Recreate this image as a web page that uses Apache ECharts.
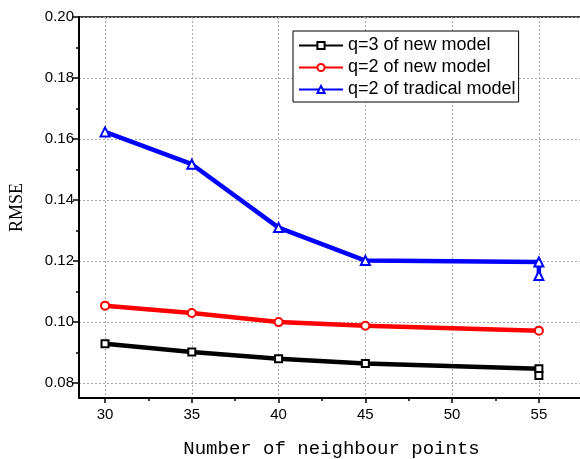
<!DOCTYPE html>
<html>
<head>
<meta charset="utf-8">
<script src="https://cdn.jsdelivr.net/npm/echarts@6/dist/echarts.min.js"></script>
<style>
  html, body { margin: 0; padding: 0; background: #fff; }
  #chart { width: 580px; height: 459px; }
</style>
</head>
<body>
<div id="chart"></div>
<script>
// data
const neighbourPoints = [30, 35, 40, 45, 55, 55]
const q3New = [0.0928, 0.0901, 0.0879, 0.0863, 0.0846, 0.0824]
const q2New = [0.1053, 0.1029, 0.0999, 0.0987, 0.0971]
const q2Trad = [0.1623, 0.1517, 0.1309, 0.1201, 0.1196, 0.1152]
const seriesNames = ['q=3 of new model', 'q=2 of new model', 'q=2 of tradical model']
const xTicks = [30, 35, 40, 45, 50, 55]
const xMinorTicks = [32.5, 37.5, 42.5, 47.5, 52.5, 57.5]
const yTicks = [0.08, 0.10, 0.12, 0.14, 0.16, 0.18, 0.20]
const yMinorTicks = [0.09, 0.11, 0.13, 0.15, 0.17, 0.19]

const pairs = (ys) => ys.map((y, i) => [neighbourPoints[i], y])

const chart = echarts.init(document.getElementById('chart'))

const tickFont = { fontFamily: 'Liberation Sans', fontSize: 15, color: '#000' }
const gridLine = { show: true, lineStyle: { color: '#a8a8a8', width: 1, type: [2, 2] } }

const option = {
    backgroundColor: '#fff',
    animation: false,
    grid: {
        left: 79, top: 17, width: 505, bottom: 61,
        outerBoundsMode: 'none',
        show: true, borderColor: '#000', borderWidth: 1.5
    },
    legend: {
        orient: 'vertical',
        left: 293, top: 31,
        data: seriesNames,
        itemWidth: 44, itemHeight: 9, itemGap: 1,
        padding: [4, 3, 2, 5],
        borderColor: '#000', borderWidth: 1,
        backgroundColor: '#fff',
        textStyle: { fontFamily: 'Liberation Sans', fontSize: 18, color: '#000', lineHeight: 21 }
    },
    xAxis: [
        {
            type: 'value', min: 28.5, max: 57.6,
            name: 'Number of neighbour points',
            nameLocation: 'middle', nameGap: 41,
            nameTextStyle: { fontFamily: 'Liberation Mono', fontSize: 19, color: '#000' },
            axisLine: { show: true, lineStyle: { color: '#000', width: 2 } },
            axisTick: { show: true, length: 5, customValues: xTicks, lineStyle: { color: '#000', width: 1.5 } },
            axisLabel: { customValues: xTicks, margin: 9, ...tickFont },
            splitLine: gridLine
        },
        {
            type: 'value', min: 28.5, max: 57.6, position: 'bottom',
            axisLine: { show: false },
            axisTick: { show: true, length: 3, customValues: xMinorTicks, lineStyle: { color: '#000', width: 1.5 } },
            axisLabel: { show: false },
            splitLine: { show: false }
        }
    ],
    yAxis: [
        {
            type: 'value', min: 0.075, max: 0.20,
            name: 'RMSE',
            nameLocation: 'middle', nameGap: 53,
            nameTextStyle: { fontFamily: 'Liberation Serif', fontSize: 18, color: '#000' },
            axisLine: { show: true, lineStyle: { color: '#000', width: 2 } },
            axisTick: { show: true, length: 6, customValues: yTicks, lineStyle: { color: '#000', width: 1.5 } },
            axisLabel: { customValues: yTicks, margin: 5, formatter: (v) => v.toFixed(2), ...tickFont },
            splitLine: gridLine
        },
        {
            type: 'value', min: 0.075, max: 0.20, position: 'left',
            axisLine: { show: false },
            axisTick: { show: true, length: 3, customValues: yMinorTicks, lineStyle: { color: '#000', width: 1.5 } },
            axisLabel: { show: false },
            splitLine: { show: false }
        }
    ],
    series: [
        {
            name: seriesNames[0], type: 'line', data: pairs(q3New),
            symbol: 'emptyRect', symbolSize: 7,
            lineStyle: { color: '#000', width: 4.5 },
            itemStyle: { color: '#000', borderWidth: 1.2 }
        },
        {
            name: seriesNames[1], type: 'line', data: pairs(q2New),
            symbol: 'emptyCircle', symbolSize: 8,
            lineStyle: { color: '#ff0000', width: 4.5 },
            itemStyle: { color: '#ff0000', borderWidth: 1.2 }
        },
        {
            name: seriesNames[2], type: 'line', data: pairs(q2Trad),
            symbol: 'emptyTriangle', symbolSize: 9,
            lineStyle: { color: '#0000ff', width: 4.5 },
            itemStyle: { color: '#0000ff', borderWidth: 1.2 }
        }
    ]
}

chart.setOption(option)
</script>
</body>
</html>
